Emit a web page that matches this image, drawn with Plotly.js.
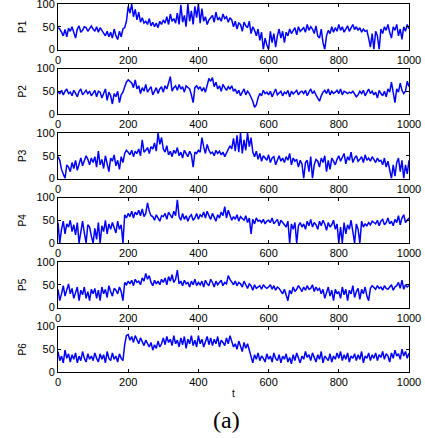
<!DOCTYPE html>
<html>
<head>
<meta charset="utf-8">
<script src="https://cdn.plot.ly/plotly-3.0.1.min.js"></script>
<style>
html,body{margin:0;padding:0;background:#fff;}
#chart{width:425px;height:438px;}
</style>
</head>
<body>
<div id="chart"></div>
<script>
// sampled every 5 time steps, t = 0 .. 1000
const tStep = 5;
const seriesNames = ["P1", "P2", "P3", "P4", "P5", "P6"];
const xTicks = [0, 200, 400, 600, 800, 1000];
const yTicks = [0, 50, 100];

const P1 = [
48,45,38,30,44,28,47,40,50,35,25,45,52,38,42,50,48,40,46,52,
45,40,50,38,48,42,35,30,40,28,38,25,45,30,22,40,28,45,48,62,
95,80,100,72,88,65,82,60,70,58,62,55,68,52,60,50,58,48,62,55,
65,58,72,55,78,62,68,58,80,55,98,60,75,50,100,62,85,55,95,70,
100,58,90,62,72,55,65,70,75,60,82,65,70,62,78,68,72,60,70,65,
50,62,45,58,55,40,60,52,48,62,35,50,42,30,45,20,38,0,25,10,
0,40,15,35,5,30,45,25,40,15,38,30,45,35,42,48,32,50,40,45,
48,38,55,42,50,45,35,52,30,25,45,15,0,30,42,35,50,38,48,40,
55,42,50,38,45,52,40,48,55,44,50,42,48,38,45,40,42,25,5,35,
0,40,30,0,45,35,50,42,55,38,25,50,42,55,30,45,22,50,40,55,
45];
const P2 = [
48,45,52,42,50,55,45,48,40,52,46,38,50,55,42,48,52,45,50,40,
45,52,38,50,48,35,45,55,30,48,40,22,45,38,50,25,42,48,60,70,
75,72,68,58,75,55,62,45,58,50,65,48,55,60,42,52,58,45,55,60,
48,62,55,68,82,50,58,62,52,65,55,60,48,62,58,55,42,25,58,62,
55,60,50,58,48,65,78,72,80,60,70,55,62,50,65,58,52,60,55,62,
50,55,45,52,40,48,55,42,50,45,38,28,15,20,35,45,40,52,45,48,
42,50,38,48,55,42,45,50,40,48,45,52,38,50,44,48,52,42,48,50,
45,52,40,48,55,45,50,42,35,28,40,48,52,45,55,42,50,45,48,52,
45,55,42,50,48,45,48,46,50,45,38,42,50,45,52,40,48,55,45,50,
42,48,35,52,45,40,50,38,55,48,70,45,25,55,48,68,52,45,50,72,
60];
const P3 = [
48,40,20,10,0,30,25,15,35,22,40,18,32,45,28,38,50,42,30,45,
35,48,25,60,30,42,22,50,35,15,45,38,52,28,40,20,48,35,55,62,
58,52,62,48,60,55,65,50,85,58,62,68,55,70,65,78,60,100,75,90,
65,58,72,52,60,48,62,55,68,50,58,45,62,55,48,60,52,25,58,55,
62,58,90,70,55,75,62,55,58,50,62,55,60,52,58,48,55,62,72,65,
88,60,95,58,100,55,85,62,100,70,90,58,48,60,42,55,38,50,45,40,
52,35,45,48,30,42,50,38,45,35,48,40,55,30,45,38,42,25,40,32,
0,35,40,15,48,0,30,42,38,25,45,35,50,15,40,20,45,38,30,42,
50,38,45,55,32,48,40,58,35,45,50,38,42,48,35,52,40,45,38,48,
42,35,45,38,40,30,45,25,38,18,0,30,5,35,45,15,40,0,30,10,
40];
const P4 = [
45,0,30,48,20,42,35,50,25,40,18,45,0,30,48,22,0,40,35,15,
0,32,8,45,0,38,25,50,20,42,30,45,35,22,48,30,40,0,62,55,
65,58,70,55,68,62,72,60,75,58,65,88,70,60,58,50,62,55,48,60,
58,65,52,68,62,55,70,60,95,58,50,65,52,60,48,58,62,50,55,65,
52,62,58,68,55,70,60,52,65,58,48,62,55,68,60,80,55,72,62,50,
58,52,62,48,58,55,50,60,45,55,20,52,42,55,48,50,45,52,42,48,
50,45,55,42,48,52,38,50,45,40,35,48,0,42,30,45,0,38,45,35,
42,30,48,38,52,35,45,40,30,48,38,50,42,28,45,35,40,50,30,42,
0,35,0,45,20,40,30,50,25,0,42,30,0,48,35,42,38,45,40,48,
45,42,50,38,48,52,40,45,55,42,48,38,52,45,60,40,55,62,45,50,
55];
const P5 = [
40,15,30,48,25,38,52,30,42,20,35,45,15,38,28,45,20,35,15,40,
30,42,20,38,15,45,30,40,22,48,35,25,42,38,30,45,35,15,55,50,
58,52,60,48,62,55,58,50,65,58,75,62,70,55,48,60,52,58,50,62,
55,65,50,68,58,72,55,62,82,52,58,48,60,52,55,45,58,50,62,48,
55,50,58,45,60,52,48,62,55,45,58,50,55,60,48,55,52,70,62,55,
50,58,48,55,52,45,58,50,42,52,48,38,50,42,45,48,40,50,45,42,
45,50,40,48,38,45,42,35,30,40,25,15,38,30,45,35,40,48,42,35,
45,38,48,40,42,50,35,45,38,42,30,40,20,35,45,25,38,15,40,30,
35,20,45,28,40,15,38,30,48,22,35,42,18,40,30,45,25,15,42,48,
45,40,48,42,45,38,48,42,40,45,50,38,45,48,55,42,60,40,50,45,
48];
const P6 = [
45,25,35,20,48,30,40,22,38,28,42,20,35,25,45,30,22,40,28,35,
25,42,30,22,40,28,38,20,45,30,25,42,28,35,22,40,30,25,60,80,
82,70,78,65,80,72,62,75,68,58,70,62,55,65,48,60,52,68,55,62,
75,60,78,65,72,58,80,62,70,55,75,60,78,52,72,62,80,58,70,55,
80,62,72,55,65,78,60,75,58,72,62,78,55,70,65,58,75,62,80,68,
55,62,50,68,58,45,65,52,62,48,30,20,38,28,42,25,35,30,22,40,
28,35,22,42,30,25,38,20,35,28,40,22,32,18,38,25,42,30,20,35,
28,45,32,38,25,42,30,22,38,28,45,20,35,30,25,40,22,35,28,42,
30,45,25,38,28,42,22,35,30,40,25,38,28,45,20,35,30,42,25,38,
30,42,25,38,32,45,28,40,35,22,42,30,48,35,40,28,50,35,45,30,
42];

const allSeries = [P1, P2, P3, P4, P5, P6];

const W = 425, H = 438;
const plotLeft = 58, plotRight = 409;
const panelTop0 = 4, panelPitch = 64.5, panelH = 45.5;

const font = {family: "Liberation Sans, Arial, sans-serif", size: 11, color: "#000"};
const titleFont = {family: "Liberation Sans, Arial, sans-serif", size: 10, color: "#000"};
const data = [];
const layout = {
  width: W, height: H,
  margin: {l: 0, r: 0, t: 0, b: 0},
  paper_bgcolor: "#fff", plot_bgcolor: "#fff",
  showlegend: false,
  font: font,
  annotations: [{
    text: "(a)", xref: "paper", yref: "paper",
    x: 226 / W, y: 1 - 420 / H, xanchor: "center", yanchor: "middle",
    showarrow: false, font: {family: "Liberation Serif, Times New Roman, serif", size: 24, color: "#000"}
  }]
};

allSeries.forEach((vals, i) => {
  const k = i === 0 ? "" : String(i + 1);
  const t = vals.map((_, j) => j * tStep);
  data.push({
    x: t, y: vals, type: "scatter", mode: "lines",
    xaxis: "x" + k, yaxis: "y" + k,
    line: {color: "#0000ff", width: 1.5},
    hoverinfo: "skip"
  });
  const top = panelTop0 + panelPitch * i;
  const bot = top + panelH;
  const axCommon = {
    showline: true, mirror: "ticks", linecolor: "#000", linewidth: 1,
    ticks: "inside", ticklen: 3, tickcolor: "#000", tickwidth: 1,
    showgrid: false, zeroline: false, tickfont: font, fixedrange: true,
    ticklabeloverflow: "allow"
  };
  layout["xaxis" + k] = Object.assign({}, axCommon, {
    domain: [plotLeft / W, plotRight / W],
    anchor: "y" + k, range: [0, 1000],
    tickmode: "array", tickvals: xTicks, ticktext: xTicks.map(String),
    title: i === 5 ? {text: "t", font: titleFont, standoff: 2} : {text: ""}
  });
  layout["yaxis" + k] = Object.assign({}, axCommon, {
    domain: [1 - bot / H, 1 - top / H],
    anchor: "x" + k, range: [0, 100],
    tickmode: "array", tickvals: yTicks, ticktext: yTicks.map(String),
    title: {text: seriesNames[i], font: titleFont, standoff: 7}
  });
});

Plotly.newPlot("chart", data, layout, {displayModeBar: false, staticPlot: true});
</script>
</body>
</html>
